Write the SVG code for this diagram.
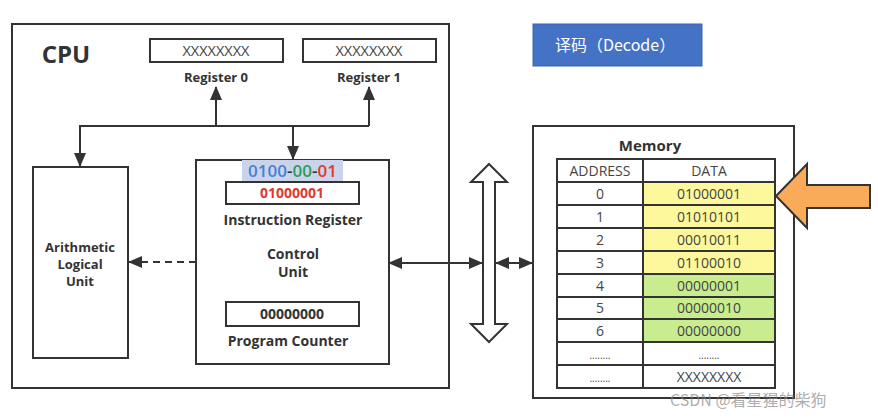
<svg xmlns="http://www.w3.org/2000/svg" width="878" height="418" viewBox="0 0 878 418">
<defs>
<style>
.box{fill:#fff;stroke:#333;stroke-width:2}
.ln{fill:none;stroke:#333;stroke-width:2}
.t{font-family:"Open Sans","Noto Sans","Noto Sans CJK SC",sans-serif;fill:#333;text-anchor:middle}
.b{font-weight:bold}
.x{fill:#444;font-size:14.5px}
.red{fill:#e0392f}
.cell{stroke:#333;stroke-width:2}
.ct{font-family:"Open Sans","Noto Sans",sans-serif;fill:#444;font-size:14px;text-anchor:middle}
.dots{font-size:10px}
</style>
<marker id="ah" markerUnits="userSpaceOnUse" markerWidth="14" markerHeight="12" refX="13" refY="6" orient="auto-start-reverse" viewBox="0 0 14 12">
<path d="M0,0 L14,6 L0,12 Z" fill="#333"/>
</marker>
</defs>
<rect width="878" height="418" fill="#fff"/>

<g id="cpu">
<rect class="box" x="12" y="24" width="437" height="364"/>
<text class="t b" x="66" y="63" font-size="24">CPU</text>
</g>

<g id="register0">
<rect class="box" x="150" y="39" width="133" height="23"/>
<text class="t x" x="216" y="56">XXXXXXXX</text>
<text class="t b" x="216" y="82" font-size="13">Register 0</text>
</g>

<g id="register1">
<rect class="box" x="303" y="39" width="133" height="23"/>
<text class="t x" x="369" y="56">XXXXXXXX</text>
<text class="t b" x="369" y="82" font-size="13">Register 1</text>
</g>

<g id="alu">
<rect class="box" x="33" y="167" width="95" height="191"/>
<text class="t b" x="80" y="252" font-size="13">Arithmetic</text>
<text class="t b" x="80" y="269" font-size="13">Logical</text>
<text class="t b" x="80" y="286" font-size="13">Unit</text>
</g>

<g id="control-unit">
<rect class="box" x="196" y="160" width="193" height="204"/>
<rect x="242" y="160" width="101" height="22" fill="#c9d4ea"/>
<text class="t" x="292.5" y="177" font-size="17" font-weight="600"><tspan style="fill:#4a7fd6">0100</tspan><tspan style="fill:#333">-</tspan><tspan style="fill:#2a9d5c">00</tspan><tspan style="fill:#333">-</tspan><tspan style="fill:#e0392f">01</tspan></text>
<rect class="box" x="226" y="182" width="133" height="22"/>
<text class="t b red" x="292" y="198" font-size="14">01000001</text>
<text class="t b" x="293" y="225" font-size="14">Instruction Register</text>
<text class="t b" x="293" y="259" font-size="14">Control</text>
<text class="t b" x="293" y="277" font-size="14">Unit</text>
<rect class="box" x="226" y="302" width="133" height="24"/>
<text class="t b" x="292" y="319" font-size="14">00000000</text>
<text class="t b" x="288" y="346" font-size="14">Program Counter</text>
</g>

<g id="bus">
<path d="M489,164 L507,182 L495,182 L495,324 L507,324 L489,342 L471,324 L483,324 L483,182 L471,182 Z" fill="#fff" stroke="#333" stroke-width="2" stroke-linejoin="miter"/>
</g>

<g id="decode">
<rect x="533" y="24" width="169" height="42" fill="#4472c4" stroke="#3a64b0" stroke-width="1"/>
<text x="555" y="51" font-family="'Noto Sans CJK SC','Noto Sans',sans-serif" font-size="16" fill="#fff">译码（Decode）</text>
</g>

<g id="memory">
<rect class="box" x="533" y="126" width="261" height="272"/>
<text class="t b" x="650" y="151" font-size="15">Memory</text>
<rect x="557" y="159" width="218" height="229" fill="#fff"/>
<rect x="643" y="182" width="132" height="92" fill="#fdf89b"/>
<rect x="643" y="274" width="132" height="68" fill="#c8ec8e"/>
<g class="cell">
<line x1="557" y1="182" x2="775" y2="182"/>
<line x1="557" y1="205" x2="775" y2="205"/>
<line x1="557" y1="228" x2="775" y2="228"/>
<line x1="557" y1="251" x2="775" y2="251"/>
<line x1="557" y1="274" x2="775" y2="274"/>
<line x1="557" y1="297" x2="775" y2="297"/>
<line x1="557" y1="319" x2="775" y2="319"/>
<line x1="557" y1="342" x2="775" y2="342"/>
<line x1="557" y1="365" x2="775" y2="365"/>
<line x1="643" y1="159" x2="643" y2="388"/>
</g>
<rect x="557" y="159" width="218" height="229" fill="none" stroke="#333" stroke-width="2"/>
<text class="ct" x="600" y="176">ADDRESS</text>
<text class="ct" x="709" y="176">DATA</text>
<text class="ct" x="600" y="199">0</text><text class="ct" x="709" y="199">01000001</text>
<text class="ct" x="600" y="222">1</text><text class="ct" x="709" y="222">01010101</text>
<text class="ct" x="600" y="245">2</text><text class="ct" x="709" y="245">00010011</text>
<text class="ct" x="600" y="268">3</text><text class="ct" x="709" y="268">01100010</text>
<text class="ct" x="600" y="291">4</text><text class="ct" x="709" y="291">00000001</text>
<text class="ct" x="600" y="313">5</text><text class="ct" x="709" y="313">00000010</text>
<text class="ct" x="600" y="336">6</text><text class="ct" x="709" y="336">00000000</text>
<text class="ct dots" x="600" y="359">........</text><text class="ct dots" x="709" y="359">........</text>
<text class="ct dots" x="600" y="382">........</text><text class="ct" x="709" y="382">XXXXXXXX</text>
</g>

<g id="pointer">
<path d="M776,196 L807,164 L807,185 L870,185 L870,208 L807,208 L807,228 Z" fill="#f9ab5a" stroke="#333" stroke-width="2" stroke-linejoin="miter"/>
</g>

<g id="connectors">
<path class="ln" d="M80,126 L369,126"/>
<line class="ln" x1="216" y1="126" x2="216" y2="87" marker-end="url(#ah)"/>
<line class="ln" x1="369" y1="126" x2="369" y2="87" marker-end="url(#ah)"/>
<line class="ln" x1="80" y1="125" x2="80" y2="166" marker-end="url(#ah)"/>
<line class="ln" x1="293" y1="126" x2="293" y2="159" marker-end="url(#ah)"/>
<line class="ln" x1="196" y1="262" x2="129" y2="262" stroke-dasharray="7,5" marker-end="url(#ah)"/>
<line class="ln" x1="389" y1="263" x2="482" y2="263" marker-start="url(#ah)" marker-end="url(#ah)"/>
<line class="ln" x1="496" y1="263" x2="532" y2="263" marker-start="url(#ah)" marker-end="url(#ah)"/>
</g>

<text x="670" y="406" font-family="'Noto Sans CJK SC','Noto Sans',sans-serif" font-size="16" fill="#888" fill-opacity="0.7">CSDN @看星猩的柴狗</text>
</svg>
